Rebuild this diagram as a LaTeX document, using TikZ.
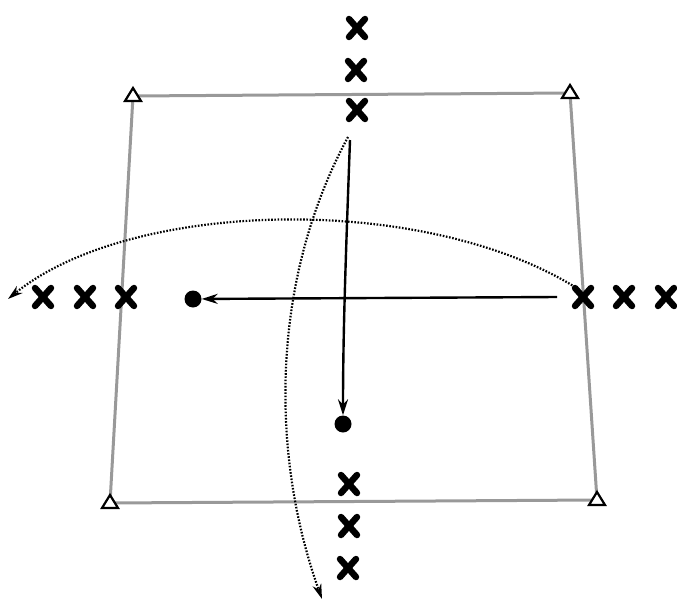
\documentclass[tikz,border=0pt]{standalone}
\usetikzlibrary{arrows.meta}
\tikzset{
  xmark/.pic={\draw[line width=6.5pt,line cap=round] (-8,-9)--(8,9) (-8,9)--(8,-9);},
  tri/.pic={\draw[line width=2.2pt,line join=miter,fill=white] (-8,5)--(8,5)--(0,-8)--cycle;},
  border/.style={draw=black!40,line width=3pt},
  dotblob/.style={circle,fill=black,inner sep=0pt,minimum size=17pt},
  solidarrow/.style={line width=2.4pt,-{Stealth[length=16pt,width=10pt]}},
  dotarrow/.style={line width=2.2pt,dash pattern=on 1.6pt off 1.6pt,-{Stealth[length=15pt,width=9pt]}},
}
\begin{document}
\begin{tikzpicture}[x=1pt,y=-1pt]
\useasboundingbox (0,0) rectangle (677,602);
% corners
\coordinate (tl) at (133,96);
\coordinate (tr) at (570,93);
\coordinate (bl) at (110,503);
\coordinate (br) at (597,500);
\draw[border] (tl)--(tr)--(br)--(bl)--cycle;
\foreach \c in {tl,tr,bl,br} \pic at (\c) {tri};
% crosses
\coordinate (t1) at (357,28);
\coordinate (t2) at (356,70);
\coordinate (t3) at (357,110);
\coordinate (l1) at (43,297);
\coordinate (l2) at (85,297);
\coordinate (l3) at (126,297);
\coordinate (r1) at (583,297);
\coordinate (r2) at (624,297);
\coordinate (r3) at (666,297);
\coordinate (b1) at (349,484);
\coordinate (b2) at (349,526);
\coordinate (b3) at (348,568);
\foreach \c in {t1,t2,t3,l1,l2,l3,r1,r2,r3,b1,b2,b3} \pic at (\c) {xmark};
% dots
\node[dotblob] (d1) at (193,299) {};
\node[dotblob] (d2) at (343,424) {};
% arrow anchors
\coordinate (hs) at (557,297);
\coordinate (vs) at (350,140);
\coordinate (ds1) at (575,287);
\coordinate (de1) at (8,299);
\coordinate (ds2) at (348,137);
\coordinate (de2) at (322,599);
% solid arrows
\draw[solidarrow] (hs) -- (d1);
\draw[solidarrow] (vs) .. controls (346,250) and (343,330) .. (d2.north);
% dotted arrows
\draw[dotarrow] (ds1) .. controls (420,192) and (130,200) .. (de1);
\draw[dotarrow] (ds2) .. controls (268,285) and (272,460) .. (de2);
\end{tikzpicture}
\end{document}
